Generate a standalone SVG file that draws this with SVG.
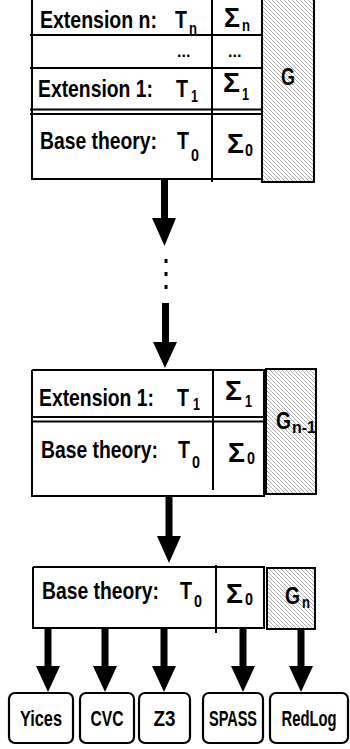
<svg xmlns="http://www.w3.org/2000/svg" width="350" height="749" viewBox="0 0 350 749">
<defs>
<pattern id="hatch" patternUnits="userSpaceOnUse" width="4" height="4">
<rect width="4" height="4" fill="#fff"/>
<path d="M-1,-1 L5,5 M-1,3 L1,5 M3,-1 L5,1" stroke="#777" stroke-width="0.6"/>
</pattern>
<style>
.ln{stroke:#000;stroke-width:2;fill:none}
.box{stroke:#000;stroke-width:2.2;fill:#fff}
.g{stroke:#000;stroke-width:2;fill:url(#hatch)}
text{font-family:"Liberation Sans",Arial,sans-serif;font-weight:bold;fill:#000}
.m{font-size:24px}
.sg{font-size:28px}
.s{font-size:17px}
.d{font-size:16px}
.tool{font-size:22px;text-anchor:middle}
.ar{fill:#000}
</style>
</defs>

<g id="block1">
<path class="ln" d="M32,-5 V179 H262 M212,-5 V182 M30,35 H262 M30,68 H262 M30,109.5 H262 M30,114 H262"/>
<rect class="g" x="262" y="-5" width="52" height="187"/>
<text class="m" x="40" y="28" textLength="117" lengthAdjust="spacingAndGlyphs">Extension n:</text>
<text class="m" x="175" y="28" textLength="12" lengthAdjust="spacingAndGlyphs">T</text>
<text class="s" x="189" y="34" textLength="8" lengthAdjust="spacingAndGlyphs">n</text>
<text class="sg" x="224" y="27" textLength="16" lengthAdjust="spacingAndGlyphs">Σ</text>
<text class="s" x="242" y="31" textLength="8" lengthAdjust="spacingAndGlyphs">n</text>
<text class="d" x="177" y="57">...</text>
<text class="d" x="228" y="57">...</text>
<text class="m" x="38" y="97" textLength="115" lengthAdjust="spacingAndGlyphs">Extension 1:</text>
<text class="m" x="176" y="97" textLength="12" lengthAdjust="spacingAndGlyphs">T</text>
<text class="s" x="191" y="102" textLength="7" lengthAdjust="spacingAndGlyphs">1</text>
<text class="sg" x="223" y="92" textLength="17" lengthAdjust="spacingAndGlyphs">Σ</text>
<text class="s" x="242" y="100" textLength="7" lengthAdjust="spacingAndGlyphs">1</text>
<text class="m" x="40" y="149" textLength="117" lengthAdjust="spacingAndGlyphs">Base theory:</text>
<text class="m" x="177" y="149" textLength="12" lengthAdjust="spacingAndGlyphs">T</text>
<text class="s" x="191" y="161" textLength="8" lengthAdjust="spacingAndGlyphs">0</text>
<text class="sg" x="227" y="153" textLength="17" lengthAdjust="spacingAndGlyphs">Σ</text>
<text class="s" x="245" y="156" textLength="8" lengthAdjust="spacingAndGlyphs">0</text>
<text class="m" x="281" y="85" textLength="14" lengthAdjust="spacingAndGlyphs">G</text>
</g>

<g id="block2">
<path class="ln" d="M32,370 V496 H264 V370 H32 M213,370 V490 M32,417 H264 M32,421.5 H264"/>
<rect class="g" x="266" y="369" width="50" height="125"/>
<text class="m" x="39" y="406" textLength="115" lengthAdjust="spacingAndGlyphs">Extension 1:</text>
<text class="m" x="177" y="406" textLength="12" lengthAdjust="spacingAndGlyphs">T</text>
<text class="s" x="193" y="410" textLength="7" lengthAdjust="spacingAndGlyphs">1</text>
<text class="sg" x="225" y="400" textLength="17" lengthAdjust="spacingAndGlyphs">Σ</text>
<text class="s" x="245" y="407" textLength="7" lengthAdjust="spacingAndGlyphs">1</text>
<text class="m" x="41" y="458" textLength="117" lengthAdjust="spacingAndGlyphs">Base theory:</text>
<text class="m" x="178" y="458" textLength="12" lengthAdjust="spacingAndGlyphs">T</text>
<text class="s" x="192" y="468" textLength="8" lengthAdjust="spacingAndGlyphs">0</text>
<text class="sg" x="228" y="462" textLength="17" lengthAdjust="spacingAndGlyphs">Σ</text>
<text class="s" x="247" y="464" textLength="8" lengthAdjust="spacingAndGlyphs">0</text>
<text class="m" x="276" y="429" textLength="15" lengthAdjust="spacingAndGlyphs">G</text>
<text class="s" x="292" y="433" textLength="24" lengthAdjust="spacingAndGlyphs">n-1</text>
</g>

<g id="block3">
<path class="ln" d="M33,567 V628 H264 V567 H33 M216,565 V633"/>
<rect class="g" x="267" y="568" width="48" height="61"/>
<text class="m" x="42" y="599" textLength="117" lengthAdjust="spacingAndGlyphs">Base theory:</text>
<text class="m" x="180" y="599" textLength="12" lengthAdjust="spacingAndGlyphs">T</text>
<text class="s" x="194" y="607" textLength="8" lengthAdjust="spacingAndGlyphs">0</text>
<text class="sg" x="226" y="603" textLength="17" lengthAdjust="spacingAndGlyphs">Σ</text>
<text class="s" x="245" y="605" textLength="8" lengthAdjust="spacingAndGlyphs">0</text>
<text class="m" x="285" y="604" textLength="15" lengthAdjust="spacingAndGlyphs">G</text>
<text class="s" x="302" y="608" textLength="8" lengthAdjust="spacingAndGlyphs">n</text>
</g>

<g id="connectors">
<path class="ar" d="M161,180 H168 V218 H176 L164.5,246 L152,218 H161 Z"/>
<rect class="ar" x="164.5" y="259" width="3" height="4"/>
<rect class="ar" x="164.5" y="272" width="3" height="4"/>
<rect class="ar" x="164.5" y="285" width="3" height="4"/>
<path class="ar" d="M162,303 H169 V342 H177 L165,368 L153,342 H162 Z"/>
<path class="ar" d="M165.5,497 H172.5 V536 H181 L169,563 L157,536 H165.5 Z"/>
<path class="ar" d="M44.5,629 H51.5 V666 H60 L48,692 L36,666 H44.5 Z"/>
<path class="ar" d="M101.5,629 H108.5 V666 H117 L105,692 L93,666 H101.5 Z"/>
<path class="ar" d="M160.5,629 H167.5 V666 H176 L164,692 L152,666 H160.5 Z"/>
<path class="ar" d="M239.5,629 H246.5 V666 H255 L243,692 L231,666 H239.5 Z"/>
<path class="ar" d="M297.5,629 H304.5 V666 H313 L301,692 L289,666 H297.5 Z"/>
</g>

<g id="yices"><rect class="box" x="9" y="693" width="64" height="50" rx="6"/><text class="tool" x="41" y="726" textLength="42" lengthAdjust="spacingAndGlyphs">Yices</text></g>
<g id="cvc"><rect class="box" x="80" y="693" width="54" height="50" rx="6"/><text class="tool" x="107" y="726" textLength="33" lengthAdjust="spacingAndGlyphs">CVC</text></g>
<g id="z3"><rect class="box" x="139" y="693" width="51" height="50" rx="6"/><text class="tool" x="164.5" y="726" textLength="22" lengthAdjust="spacingAndGlyphs">Z3</text></g>
<g id="spass"><rect class="box" x="203" y="693" width="60" height="50" rx="6"/><text class="tool" x="233" y="726" textLength="48" lengthAdjust="spacingAndGlyphs">SPASS</text></g>
<g id="redlog"><rect class="box" x="270" y="693" width="78" height="50" rx="6"/><text class="tool" x="309" y="726" font-size="19" textLength="55" lengthAdjust="spacingAndGlyphs">RedLog</text></g>
</svg>
